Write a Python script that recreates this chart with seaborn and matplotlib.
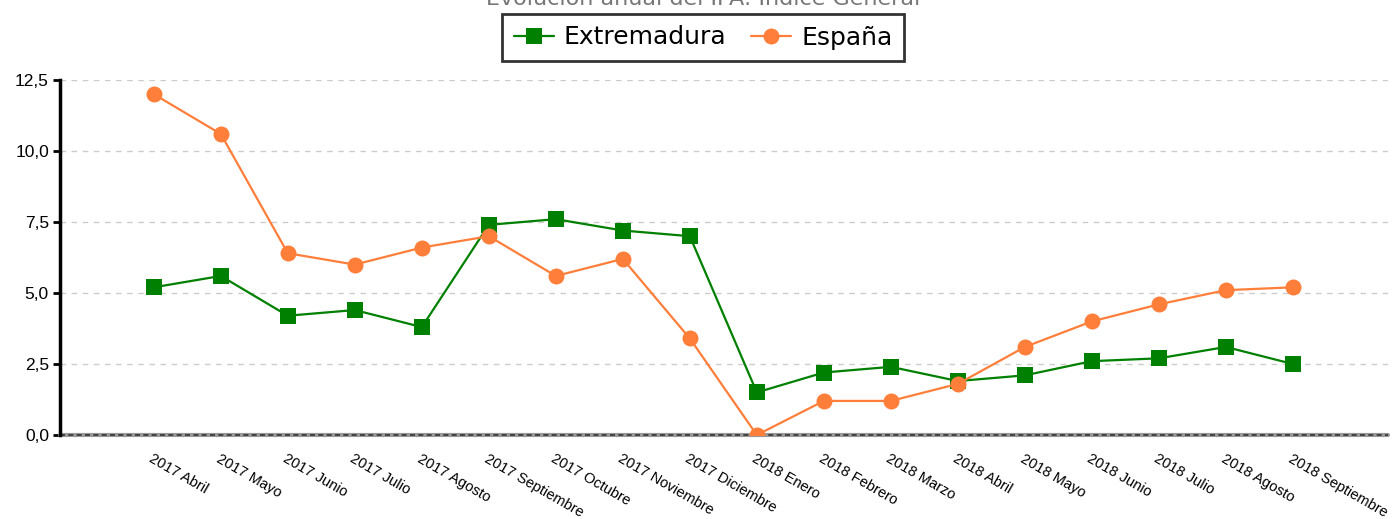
import matplotlib
matplotlib.use("Agg")
import matplotlib.pyplot as plt
import seaborn as sns
import pandas as pd

meses = ["2017 Abril", "2017 Mayo", "2017 Junio", "2017 Julio", "2017 Agosto",
         "2017 Septiembre", "2017 Octubre", "2017 Noviembre", "2017 Diciembre",
         "2018 Enero", "2018 Febrero", "2018 Marzo", "2018 Abril", "2018 Mayo",
         "2018 Junio", "2018 Julio", "2018 Agosto", "2018 Septiembre"]
extremadura = [5.2, 5.6, 4.2, 4.4, 3.8, 7.4, 7.6, 7.2, 7.0, 1.5, 2.2, 2.4,
               1.9, 2.1, 2.6, 2.7, 3.1, 2.5]
espana = [12.0, 10.6, 6.4, 6.0, 6.6, 7.0, 5.6, 6.2, 3.4, 0.0, 1.2, 1.2,
          1.8, 3.1, 4.0, 4.6, 5.1, 5.2]
yticks = [0.0, 2.5, 5.0, 7.5, 10.0, 12.5]
titulo = "Evolución anual del IPA: Índice General"

sns.set_theme(style="white")
plt.rcParams['font.family'] = ['DejaVu Sans']
plt.rcParams['text.color'] = 'black'
plt.rcParams['xtick.color'] = 'black'
plt.rcParams['ytick.color'] = 'black'

df = pd.DataFrame({
    "pos": list(range(len(meses))) * 2,
    "valor": extremadura + espana,
    "serie": ["Extremadura"] * len(meses) + ["España"] * len(meses),
})

fig = plt.figure(figsize=(13.98, 5.19), dpi=100)
ax = fig.add_axes([60 / 1398, 1 - 435 / 519, (1388 - 60) / 1398, (435 - 80) / 519])

sns.lineplot(data=df, x="pos", y="valor", hue="serie", style="serie",
             markers={"Extremadura": "s", "España": "o"}, dashes=False,
             palette={"Extremadura": "#008000", "España": "#ff7f3a"},
             markersize=11.5, linewidth=1.6, markeredgewidth=0, ax=ax, zorder=3)

ax.set_ylim(0, 12.5)
ax.set_xlim(-1.4, 18.42)
ax.set_yticks(yticks)
ax.set_yticklabels([f"{v:.1f}".replace(".", ",") for v in yticks],
                   fontfamily="Liberation Sans", fontsize=12.5, color="black")
ax.set_xticks(range(len(meses)))
ax.set_xticklabels(meses, rotation=-30, ha="left", va="top",
                   rotation_mode="anchor", fontfamily="Liberation Sans",
                   fontsize=10.5, color="black")
ax.tick_params(axis="x", length=0, pad=12)
ax.tick_params(axis="y", length=5, width=2, color="black", direction="out", left=True, pad=3)
ax.set_xlabel("")
ax.set_ylabel("")

for v in yticks[1:]:
    ax.axhline(v, color="#cccccc", linestyle=(0, (4, 4)), linewidth=1, zorder=1)
ax.axhline(0, color="#999999", linewidth=3, zorder=2, clip_on=False)
ax.axhline(0, color="#333333", linestyle=(0, (3, 2)), linewidth=1.2, zorder=2, clip_on=False)

for s in ["top", "right", "bottom"]:
    ax.spines[s].set_visible(False)
ax.spines["left"].set_color("black")
ax.spines["left"].set_linewidth(2.5)

handles, labels = ax.get_legend_handles_labels()
leg = ax.legend(handles, labels, loc="center", bbox_to_anchor=(703 / 1398, 1 - 37.5 / 519),
                bbox_transform=fig.transFigure, ncol=2, fontsize=18, frameon=True,
                fancybox=False, edgecolor="black", handlelength=1.6, handletextpad=0.4,
                columnspacing=1.0, borderpad=0.45, labelcolor="black")
leg.get_frame().set_linewidth(2)
leg.get_frame().set_edgecolor("black")

fig.text(703 / 1398, 1 - 5 / 519, titulo, ha="center", va="baseline",
         fontsize=16, color="#777777")

fig.savefig("out.png", dpi=100)
